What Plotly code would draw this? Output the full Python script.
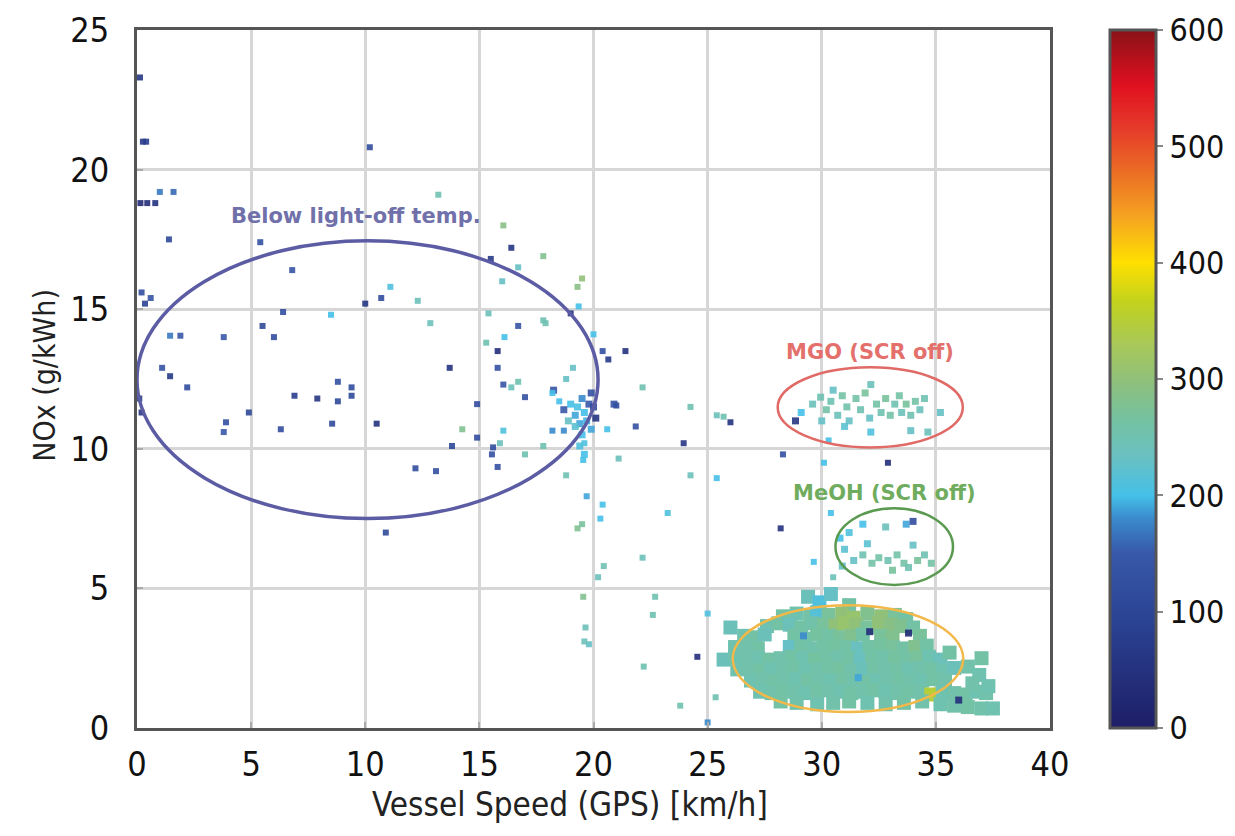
import plotly.graph_objects as go

# ---------------- data ----------------
# scattered points: vessel speed [km/h], NOx [g/kWh], temperature [°C]
scatter_speed = [0.13, 0.26, 0.4, 10.2, 1.0, 1.6, 0.15, 0.45, 0.8, 13.2, 1.4, 5.4, 16.05, 16.4, 17.8,
                 16.7, 19.5, 19.3, 6.8, 11.1, 10.7, 10.0, 12.3, 16.0, 15.5, 0.6, 0.35, 0.2, 6.4, 8.5,
                 15.4, 17.8, 12.85, 17.9, 5.5, 6.0, 1.45, 1.9, 3.8, 16.7, 16.1, 15.3, 15.8, 20.4, 15.8,
                 13.7, 1.1, 1.45, 19.1, 18.8, 16.7, 16.05, 16.4, 2.2, 8.8, 9.4, 9.4, 6.9, 7.9, 8.8,
                 17.0, 18.2, 18.5, 14.9, 4.9, 0.2, 0.1, 3.9, 3.8, 6.3, 8.55, 10.5, 14.25, 14.9, 13.8,
                 16.05, 15.9, 15.6, 15.55, 17.0, 17.8, 18.2, 18.7, 15.8, 12.2, 13.1, 18.8, 19.55, 19.6,
                 19.7, 20.4, 20.3, 19.3, 19.5, 10.9, 20.45, 20.2, 19.55, 19.65, 19.8, 19.6]
scatter_nox = [23.3, 21.0, 21.0, 20.8, 19.2, 19.2, 18.8, 18.8, 18.8, 19.1, 17.5, 17.4, 18.0, 17.2, 16.9,
               16.5, 16.1, 15.8, 16.4, 15.8, 15.4, 15.2, 15.3, 16.0, 16.8, 15.4, 15.2, 15.6, 14.9, 14.8,
               14.85, 14.6, 14.5, 14.5, 14.4, 14.0, 14.05, 14.05, 14.0, 14.4, 14.0, 13.8, 13.5, 13.5, 12.9,
               12.9, 12.9, 12.6, 12.9, 12.5, 12.4, 12.3, 12.2, 12.2, 12.4, 12.2, 11.9, 11.9, 11.8, 11.7,
               11.85, 12.0, 11.7, 11.6, 11.3, 11.3, 11.8, 10.95, 10.6, 10.7, 10.9, 10.9, 10.7, 10.4, 10.1,
               10.65, 10.2, 10.05, 9.8, 9.8, 10.1, 10.65, 10.65, 9.35, 9.3, 9.2, 9.05, 9.6, 10.2,
               8.3, 8.0, 7.5, 7.15, 7.3, 7.0, 5.8, 5.4, 4.7, 3.6, 3.0, 3.1]
scatter_temp = [60, 70, 80, 120, 170, 160, 30, 40, 50, 250, 110, 130, 290, 60, 280,
                230, 300, 290, 140, 210, 120, 60, 240, 230, 70, 140, 90, 120, 130, 200,
                240, 250, 240, 250, 110, 120, 170, 150, 150, 140, 200, 250, 40, 130, 130,
                50, 140, 70, 230, 230, 250, 140, 240, 120, 130, 120, 110, 80, 60, 110,
                130, 200, 200, 120, 110, 60, 80, 130, 150, 120, 110, 50, 280, 120, 110,
                210, 240, 120, 130, 250, 250, 180, 180, 130, 120, 130, 250, 200, 210,
                190, 200, 200, 280, 270, 110, 250, 240, 280, 240, 230, 240]

# cyan cluster near 20 km/h
cyan_speed = [19.0, 19.2, 19.3, 19.4, 19.5, 19.6, 19.7, 19.8, 19.9, 20.0, 20.1, 19.5, 19.4, 19.6,
              19.2, 18.9, 19.9, 18.7, 20.9, 18.25]
cyan_nox = [11.6, 11.2, 11.5, 10.9, 11.8, 11.3, 11.0, 11.6, 12.0, 11.5, 11.1, 10.5, 10.1, 9.8,
            10.8, 11.0, 10.7, 11.4, 11.6, 12.1]
cyan_temp = [200, 190, 205, 190, 180, 200, 195, 150, 130, 120, 60, 200, 210, 200,
             220, 230, 190, 150, 140, 140]

# middle region points (20-33 km/h)
mid_speed = [19.35, 19.0, 20.0, 20.65, 21.4, 22.15, 21.0, 24.25, 25.4, 25.7, 26.0, 21.85, 20.6,
             23.95, 21.1, 24.25, 25.4, 28.3, 30.1, 32.9, 23.25, 28.2, 30.4, 29.65, 22.15, 30.5,
             22.7, 22.6, 25.0, 24.55, 22.2, 23.8, 25.35, 25.0, 30.3]
mid_nox = [15.1, 14.85, 14.1, 13.2, 13.5, 12.2, 11.55, 11.5, 11.2, 11.15, 10.95, 10.8, 10.7,
           10.2, 9.65, 9.05, 8.95, 9.8, 9.5, 9.5, 7.7, 7.15, 7.7, 5.95, 6.1, 5.4,
           4.7, 4.05, 4.1, 2.55, 2.2, 0.8, 1.1, 0.2, 10.3]
mid_temp = [200, 60, 200, 70, 50, 250, 120, 250, 240, 250, 50, 130, 200,
            60, 240, 240, 200, 130, 200, 40, 210, 50, 200, 200, 240, 240,
            250, 250, 210, 40, 250, 250, 250, 180, 200]

# MGO (SCR off) cluster
mgo_speed = [29.1, 28.85, 29.6, 29.95, 30.2, 30.5, 30.4, 30.7, 30.9, 31.1, 31.2, 31.5, 31.7, 31.9,
             32.15, 32.1, 32.15, 32.4, 32.6, 32.8, 33.0, 33.2, 33.4, 33.5, 33.7, 33.9, 33.9, 34.1,
             34.3, 34.5, 34.65, 35.2, 30.0, 31.0]
mgo_nox = [11.3, 11.0, 11.6, 11.85, 11.4, 12.1, 11.7, 11.2, 11.9, 11.5, 11.0, 11.8, 11.4, 12.0,
           12.3, 11.1, 10.6, 11.6, 11.3, 11.8, 11.2, 11.6, 11.9, 11.3, 11.6, 11.2, 10.65, 11.7,
           11.4, 11.8, 10.6, 11.3, 11.0, 10.8]
mgo_temp = [200, 60, 240, 250, 260, 230, 250, 240, 260, 255, 230, 260, 250, 270,
            240, 230, 210, 260, 250, 270, 260, 250, 260, 240, 270, 250, 230, 260,
            240, 250, 240, 230, 230, 220]

# MeOH (SCR off) cluster
meoh_speed = [31.8, 32.8, 33.7, 34.0, 30.8, 31.0, 31.2, 31.4, 31.8, 32.2, 32.5, 32.9, 33.1, 33.3,
              33.6, 33.8, 34.0, 34.2, 34.5, 34.8, 32.0, 30.9]
meoh_nox = [7.3, 7.2, 7.3, 7.4, 6.8, 6.4, 7.0, 6.0, 6.2, 5.9, 6.1, 6.0, 5.65, 6.2,
            5.9, 5.75, 6.55, 6.0, 6.2, 5.9, 6.6, 5.8]
meoh_temp = [200, 240, 190, 120, 200, 220, 210, 230, 250, 260, 260, 250, 270, 260,
             260, 250, 230, 270, 250, 260, 220, 230]

# dense cluster (SCR on, low NOx)
core_speed = [29.4, 29.9, 30.4, 31.2,
              28.3, 28.9, 29.5, 29.8, 30.3, 30.9, 31.4, 32.0, 32.6, 33.2, 33.7,
              27.6, 28.1, 28.6, 29.1, 29.6, 30.1, 30.6, 31.0, 31.5, 32.0, 32.5, 33.0, 33.5, 34.0,
              26.6, 27.1, 27.5, 28.8, 29.3, 29.8, 30.3, 30.8, 31.3, 31.8, 32.6, 33.1, 34.3,
              26.2, 26.7, 27.2, 28.6, 29.1, 29.6, 30.1, 30.6, 31.1, 31.6, 32.1, 32.6, 33.1, 33.6, 34.1, 34.6,
              25.7, 26.2, 26.7, 27.2, 27.7, 28.2, 28.7, 29.2, 29.7, 30.2, 30.7, 31.2, 31.7, 32.2, 32.7,
              33.2, 33.7, 34.2, 34.7, 35.2,
              26.3, 26.8, 27.3, 27.8, 28.3, 28.8, 29.3, 29.8, 30.3, 30.8, 31.3, 31.8, 32.3, 32.8, 33.3,
              33.8, 34.3, 34.8, 35.3, 35.8,
              26.9, 27.4, 27.9, 28.4, 28.9, 29.4, 29.9, 30.4, 30.9, 31.4, 31.9, 32.4, 32.9, 33.4, 33.9,
              34.4, 34.9, 35.4,
              27.3, 27.8, 28.3, 28.8, 29.3, 29.8, 30.3, 30.8, 31.3, 31.8, 32.3, 32.8, 33.3, 33.8, 34.3,
              34.8, 35.3, 35.8, 36.3, 36.8, 37.2,
              28.2, 28.9, 29.8, 30.5, 31.2, 32.0, 32.8, 33.6, 34.4, 35.2, 35.8, 36.4, 37.0, 37.5,
              36.4, 36.9, 37.0, 36.6, 37.3, 35.6, 26.0]
core_nox = [4.7, 4.5, 4.8, 4.4,
            4.0, 4.1, 4.0, 4.15, 4.05, 4.1, 3.95, 4.1, 4.0, 4.05, 3.9,
            3.65, 3.75, 3.7, 3.6, 3.75, 3.7, 3.65, 3.75, 3.7, 3.6, 3.75, 3.7, 3.65, 3.6,
            3.3, 3.25, 3.35, 3.3, 3.2, 3.35, 3.3, 3.25, 3.3, 3.35, 3.3, 3.25, 3.3,
            2.9, 2.95, 2.85, 2.9, 2.95, 2.85, 2.9, 2.95, 2.9, 2.85, 2.9, 2.95, 2.9, 2.85, 2.9, 2.95,
            2.45, 2.5, 2.55, 2.5, 2.45, 2.5, 2.55, 2.5, 2.45, 2.5, 2.55, 2.5, 2.45, 2.5, 2.55,
            2.5, 2.45, 2.5, 2.55, 2.45,
            2.1, 2.15, 2.05, 2.1, 2.15, 2.1, 2.05, 2.1, 2.15, 2.1, 2.05, 2.1, 2.15, 2.1, 2.05,
            2.1, 2.15, 2.1, 2.05, 2.15,
            1.7, 1.75, 1.65, 1.7, 1.75, 1.7, 1.65, 1.7, 1.75, 1.7, 1.65, 1.7, 1.75, 1.7, 1.65,
            1.7, 1.75, 1.7,
            1.3, 1.25, 1.35, 1.3, 1.25, 1.3, 1.35, 1.3, 1.25, 1.3, 1.35, 1.3, 1.25, 1.3, 1.35,
            1.2, 1.3, 1.25, 1.2, 1.3, 1.25,
            0.95, 0.9, 0.85, 0.9, 0.95, 0.9, 0.85, 0.9, 0.95, 0.85, 0.8, 0.75, 0.7, 0.7,
            2.2, 1.9, 2.5, 1.6, 1.5, 2.7, 3.6]
core_temp = [240, 210, 230, 260,
             260, 250, 260, 215, 270, 300, 310, 280, 300, 270, 260,
             250, 260, 240, 260, 255, 270, 300, 310, 300, 270, 300, 290, 280, 260,
             250, 260, 240, 260, 255, 265, 260, 270, 280, 260, 270, 280, 270,
             250, 255, 260, 230, 260, 255, 260, 265, 260, 235, 260, 265, 270, 260, 280, 260,
             240, 250, 255, 250, 260, 255, 260, 250, 265, 260, 255, 260, 235, 260, 255,
             265, 260, 270, 250, 240,
             250, 255, 260, 250, 255, 260, 250, 255, 260, 265, 255, 240, 260, 255, 260,
             250, 255, 260, 250, 240,
             250, 255, 260, 255, 250, 260, 255, 250, 260, 255, 260, 250, 255, 260, 255,
             250, 260, 255,
             250, 255, 260, 255, 250, 260, 255, 250, 260, 255, 260, 250, 255, 260, 255,
             350, 250, 255, 260, 250, 255,
             260, 255, 250, 255, 260, 250, 255, 260, 255, 250, 255, 260, 255, 250,
             255, 250, 260, 255, 250, 260, 240]

# a few low-temperature points sitting inside the dense cluster
inner_speed = [32.1, 33.8, 36.0, 29.2, 31.6]
inner_nox = [3.45, 3.4, 1.0, 3.3, 1.8]
inner_temp = [40, 30, 40, 180, 190]

x_ticks = [0, 5, 10, 15, 20, 25, 30, 35, 40]
y_ticks = [0, 5, 10, 15, 20, 25]
cbar_ticks = [0, 100, 200, 300, 400, 500, 600]

# annotation ellipses: (x0, x1, y0, y1) in data units
ellipse_below = [0.0, 20.2, 7.5, 17.45]
ellipse_mgo = [28.07, 36.18, 10.05, 12.92]
ellipse_meoh = [30.6, 35.75, 5.12, 7.87]
ellipse_scr = [26.1, 36.2, 0.57, 4.4]

NARROW = "DejaVu Sans Condensed, Liberation Sans Narrow, Arial Narrow, sans-serif"

colorscale = [
    [0.0, "#1e1e66"], [0.15, "#2a4292"], [0.25, "#3858a8"], [0.30, "#3a8acc"],
    [0.333, "#45c0e8"], [0.39, "#6ac0c0"], [0.44, "#74c2a2"], [0.49, "#8cc080"],
    [0.55, "#a8c858"], [0.61, "#c2d21e"], [0.667, "#ffe000"], [0.73, "#f5a520"],
    [0.80, "#eb6a25"], [0.86, "#e53a2a"], [0.92, "#e01020"], [1.0, "#8a1218"],
]

fig = go.Figure()


def add_points(xs, ys, cs, size, opacity=0.9):
    fig.add_trace(go.Scatter(
        x=xs, y=ys, mode="markers",
        marker=dict(symbol="square", size=size, color=cs, coloraxis="coloraxis",
                    opacity=opacity, line=dict(width=0)),
        showlegend=False, hoverinfo="x+y"))


add_points(core_speed, core_nox, core_temp, 14, 1.0)
add_points(inner_speed, inner_nox, inner_temp, 7)
add_points(mgo_speed, mgo_nox, mgo_temp, 7)
add_points(meoh_speed, meoh_nox, meoh_temp, 7)
add_points(cyan_speed, cyan_nox, cyan_temp, 7)
add_points(mid_speed, mid_nox, mid_temp, 6)
add_points(scatter_speed, scatter_nox, scatter_temp, 6)

for (x0, x1, y0, y1), col, w in [(ellipse_below, "#5c5ca4", 3.5),
                                 (ellipse_mgo, "#e06a66", 2.5),
                                 (ellipse_meoh, "#5a9a50", 2.5),
                                 (ellipse_scr, "#f2b84a", 2.5)]:
    fig.add_shape(type="circle", xref="x", yref="y", x0=x0, x1=x1, y0=y0, y1=y1,
                  line=dict(color=col, width=w), layer="above")

label_font = "DejaVu Sans, Verdana, sans-serif"
fig.add_annotation(x=9.6, y=18.35, text="<b>Below light-off temp.</b>", showarrow=False,
                   font=dict(family=label_font, size=21, color="#7070aa"))
fig.add_annotation(x=32.1, y=13.45, text="<b>MGO (SCR off)</b>", showarrow=False,
                   font=dict(family=label_font, size=21, color="#e4706c"))
fig.add_annotation(x=32.75, y=8.4, text="<b>MeOH (SCR off)</b>", showarrow=False,
                   font=dict(family=label_font, size=21, color="#70ac5e"))

# axis titles
fig.add_annotation(xref="paper", yref="paper", x=0.474, y=-0.11, xanchor="center", yanchor="middle",
                   text="Vessel Speed (GPS) [km/h]",
                   showarrow=False, font=dict(family=NARROW, size=33, color="#222"))
fig.add_annotation(xref="paper", yref="paper", x=-0.1008, y=0.506, xanchor="center", yanchor="middle",
                   text="NOx (g/kWh)", textangle=-90,
                   showarrow=False, font=dict(family=NARROW, size=30, color="#222"))

axis_common = dict(showgrid=True, gridcolor="#d6d6d6", gridwidth=3, zeroline=False,
                   showline=True, linecolor="#555", linewidth=3, mirror=True,
                   ticks="inside", ticklen=6, tickcolor="#aaa", tickwidth=2,
                   tickfont=dict(family=NARROW, size=34, color="#111"))

# the page body adds an 8 px offset, so the figure is sized to fit the 1235x836 window
fig.update_layout(
    width=1219, height=820,
    margin=dict(l=129, r=177, t=22, b=100, autoexpand=False),
    paper_bgcolor="white", plot_bgcolor="white",
    xaxis=dict(range=[0, 40], tickvals=x_ticks, ticklabelstandoff=4, **axis_common),
    yaxis=dict(range=[0, 25], tickvals=y_ticks, ticklabelstandoff=18, **axis_common),
    coloraxis=dict(
        cmin=0, cmax=600, colorscale=colorscale,
        colorbar=dict(x=1.0657, xanchor="left", xpad=0, y=0.5, yanchor="middle", len=1.0,
                      lenmode="fraction", ypad=0, thickness=46, outlinecolor="#555",
                      outlinewidth=3, tickvals=cbar_ticks, ticks="outside", ticklen=6,
                      tickcolor="#888", tickwidth=2,
                      tickfont=dict(family=NARROW, size=32, color="#111")),
    ),
)

fig.write_html("out.html")
